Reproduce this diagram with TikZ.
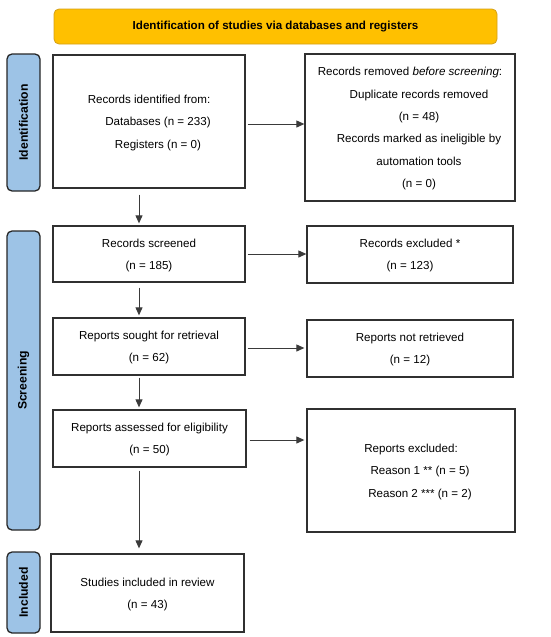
\documentclass[tikz,border=0pt]{standalone}
\usepackage{fontspec}
\setmainfont{Liberation Sans}
\usetikzlibrary{arrows.meta}
\definecolor{hdrfill}{HTML}{FFC000}
\definecolor{hdrline}{HTML}{D4A017}
\definecolor{barfill}{HTML}{9DC3E6}
\definecolor{barline}{HTML}{262626}
\definecolor{boxline}{HTML}{303030}
\definecolor{arrline}{HTML}{3A3A3A}
\tikzset{
  box/.style={draw=boxline, line width=1.3pt, fill=white, align=center, inner sep=0pt,
    font=\fontsize{11.6}{22.4}\selectfont, text depth=-2.5pt},
  header/.style={draw=hdrline, fill=hdrfill, line width=0.8pt, rounded corners=5pt,
    inner sep=0pt, font=\fontsize{11.6}{13}\selectfont\bfseries},
  sidebar/.style={draw=barline, fill=barfill, line width=1.3pt, rounded corners=5pt,
    inner sep=0pt},
  sidelabel/.style={rotate=90, font=\fontsize{12.2}{14}\selectfont\bfseries},
  flow/.style={draw=arrline, line width=1pt, -{Triangle[length=8pt,width=7pt]}},
}
\begin{document}
\begin{tikzpicture}[x=1pt,y=-1pt]
\useasboundingbox (0,0) rectangle (550,637);
% header
\node[header, minimum width=443pt, minimum height=35pt] (hdr) at (275.5,26.5)
  {Identification of studies via databases and registers};
% side bars
\node[sidebar, minimum width=33pt, minimum height=137pt] (bid) at (23.5,122.5) {};
\node[sidelabel] (lid) at (bid.center) {Identification};
\node[sidebar, minimum width=33pt, minimum height=299pt] (bsc) at (23.5,380.5) {};
\node[sidelabel] (lsc) at (bsc.center) {Screening};
\node[sidebar, minimum width=33pt, minimum height=81pt] (bin) at (23.5,592.5) {};
\node[sidelabel] (lin) at (bin.center) {Included};
% boxes left
\node[box, minimum width=192pt, minimum height=133pt] (ident) at (149,121.5)
  {Records identified from:\\ \hspace*{18pt}Databases (n = 233)\\ \hspace*{18pt}Registers (n = 0)};
\node[box, minimum width=192pt, minimum height=56pt] (screen) at (149,254)
  {Records screened\\(n = 185)};
\node[box, minimum width=192pt, minimum height=57pt] (sought) at (149,346.5)
  {Reports sought for retrieval\\(n = 62)};
\node[box, minimum width=193pt, minimum height=57pt] (assess) at (149.5,438.5)
  {Reports assessed for eligibility\\(n = 50)};
\node[box, minimum width=193pt, minimum height=78pt] (incl) at (147.5,593)
  {Studies included in review\\(n = 43)};
% boxes right
\node[box, minimum width=210pt, minimum height=147pt] (removed) at (410,127.5)
  {Records removed \emph{before screening}:\\
   \hspace*{18pt}Duplicate records removed\\
   \hspace*{18pt}(n = 48)\\
   \hspace*{18pt}Records marked as ineligible by\\
   \hspace*{18pt}automation tools\\
   \hspace*{18pt}(n = 0)};
\node[box, minimum width=206pt, minimum height=57pt] (excl) at (410,254.5)
  {Records excluded *\\(n = 123)};
\node[box, minimum width=206pt, minimum height=57pt] (notret) at (410,348.5)
  {Reports not retrieved\\(n = 12)};
\node[box, minimum width=208pt, minimum height=123pt] (repexcl) at (411,470.5)
  {Reports excluded:\\
   \hspace*{18pt}Reason 1 ** (n = 5)\\
   \hspace*{18pt}Reason 2 *** (n = 2)};
% horizontal arrows
\draw[flow, shorten <=2pt] ([yshift=-2.5pt]ident.east) -- ([yshift=-2.5pt]ident.east -| removed.west);
\draw[flow, shorten <=2pt] (screen.east) -- (screen.east -| excl.west);
\draw[flow, shorten <=2pt, shorten >=2pt] ([yshift=-1.5pt]sought.east) -- ([yshift=-1.5pt]sought.east -| notret.west);
\draw[flow, shorten <=3pt, shorten >=2pt] ([yshift=-1.5pt]assess.east) -- ([yshift=-1.5pt]assess.east -| repexcl.west);
% vertical arrows
\draw[flow, shorten <=6pt, shorten >=2pt] ([xshift=-10pt]ident.south) -- ([xshift=-10pt]ident.south |- screen.north);
\draw[flow, shorten <=5pt, shorten >=2pt] ([xshift=-10pt]screen.south) -- ([xshift=-10pt]screen.south |- sought.north);
\draw[flow, shorten <=2pt, shorten >=2pt] ([xshift=-10pt]sought.south) -- ([xshift=-10pt]sought.south |- assess.north);
\draw[flow, shorten <=3pt, shorten >=5pt] ([xshift=-10.5pt]assess.south) -- ([xshift=-10.5pt]assess.south |- incl.north);
\end{tikzpicture}
\end{document}
